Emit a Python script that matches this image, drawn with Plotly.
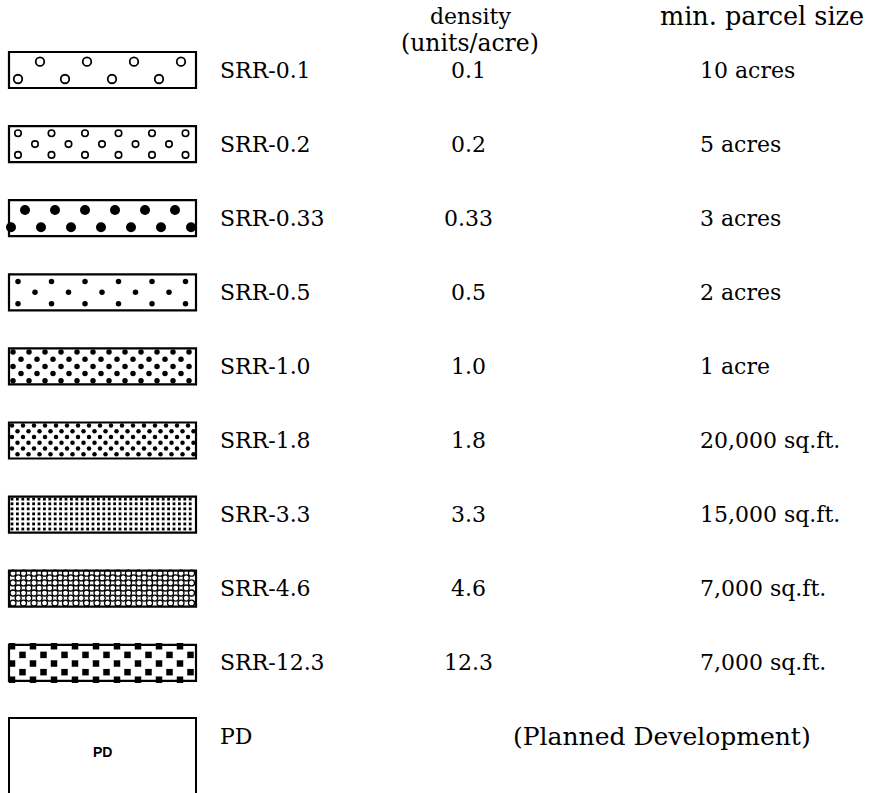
import plotly.graph_objects as go

# ---- data ----
codes = ["SRR-0.1", "SRR-0.2", "SRR-0.33", "SRR-0.5", "SRR-1.0", "SRR-1.8",
         "SRR-3.3", "SRR-4.6", "SRR-12.3", "PD"]
densities = ["0.1", "0.2", "0.33", "0.5", "1.0", "1.8", "3.3", "4.6", "12.3", ""]
parcel_sizes = ["10 acres", "5 acres", "3 acres", "2 acres", "1 acre",
                "20,000 sq.ft.", "15,000 sq.ft.", "7,000 sq.ft.", "7,000 sq.ft.", ""]
pd_note = "(Planned Development)"
header_density = ["density", "(units/acre)"]
header_parcel = "min. parcel size"

# ---- layout constants (page pixels) ----
W, H = 870, 793
ROW0, DY = 70, 74.1
BX0, BX1, BH = 9, 196, 36
FONT = "DejaVu Serif"

patterns = [
    dict(sym="circle-open", size=8.5, lw=1.8, dx=47, rows=[0.27, 0.75], offs=[31, 9]),
    dict(sym="circle-open", size=6.5, lw=1.6, dx=33.5, rows=[0.2, 0.5, 0.8], offs=[9, 26, 9]),
    dict(sym="circle", size=10, lw=0, dx=30, rows=[0.27, 0.75], offs=[16, 2]),
    dict(sym="circle", size=5.5, lw=0, dx=33.5, rows=[0.2, 0.5, 0.82], offs=[9, 26, 9]),
    dict(sym="circle", size=5.5, lw=0, dx=16, rows=[0.1, 0.3, 0.5, 0.7, 0.9], offs=[4, 12, 4, 12, 4]),
    dict(sym="circle", size=4.5, lw=0, dx=11, rows=[0.08, 0.24, 0.4, 0.56, 0.72, 0.88],
         offs=[3, 8.5, 3, 8.5, 3, 8.5]),
    dict(sym="square", size=2.8, lw=0, dx=5.4, rows=[0.07, 0.2, 0.34, 0.48, 0.62, 0.76, 0.9],
         offs=[3, 3, 3, 3, 3, 3, 3]),
    dict(sym="circle-open", size=6, lw=1.3, dx=10.5, rows=[0.07, 0.2, 0.34, 0.48, 0.62, 0.76, 0.9],
         offs=[4, 9.2, 4, 9.2, 4, 9.2, 4]),
    dict(sym="square", size=6.5, lw=0, dx=21, rows=[0.04, 0.28, 0.52, 0.76, 0.97],
         offs=[3, 13.5, 3, 13.5, 3]),
]

fig = go.Figure()
shapes = []
annotations = []


def row_y(i):
    return ROW0 + i * DY


def txt(x, y, s, anchor="center", size=22, family=FONT):
    annotations.append(dict(x=x, y=y, text=s, showarrow=False, xanchor=anchor,
                            yanchor="middle", font=dict(family=family, size=size, color="black")))


for i, code in enumerate(codes):
    yc = row_y(i)
    y0, y1 = yc - BH / 2, yc + BH / 2
    if i < len(patterns):
        p = patterns[i]
        xs, ys = [], []
        for fr, off in zip(p["rows"], p["offs"]):
            x = BX0 + off
            while x < BX1 - 1:
                xs.append(x)
                ys.append(y0 + fr * BH)
                x += p["dx"]
        fig.add_trace(go.Scatter(
            x=xs, y=ys, mode="markers", hoverinfo="skip", showlegend=False,
            marker=dict(symbol=p["sym"], size=p["size"], color="black",
                        line=dict(width=p["lw"], color="black"))))
        shapes.append(dict(type="rect", x0=BX0, x1=BX1, y0=y0, y1=y1,
                           line=dict(color="black", width=2.2), xref="x", yref="y"))
    else:
        top = yc - 19
        shapes.append(dict(type="path",
                           path=f"M {BX0},{H + 20} L {BX0},{top} L {BX1},{top} L {BX1},{H + 20}",
                           line=dict(color="black", width=2), xref="x", yref="y"))
        txt((BX0 + BX1) / 2, yc + 15, "<b>PD</b>", size=14, family="Liberation Sans")
    txt(218, yc, code, anchor="left")
    if densities[i]:
        txt(468, yc, densities[i])
    if parcel_sizes[i]:
        txt(698, yc, parcel_sizes[i], anchor="left")

txt(662, row_y(9), pd_note, size=25)
txt(470, 16, header_density[0], size=22)
txt(470, 43, header_density[1], size=23.5)
txt(762, 16, header_parcel, size=25.5)

fig.update_layout(
    width=W, height=H, margin=dict(l=0, r=0, t=0, b=0),
    paper_bgcolor="white", plot_bgcolor="white",
    xaxis=dict(range=[0, W], visible=False, fixedrange=True),
    yaxis=dict(range=[H, 0], visible=False, fixedrange=True),
    shapes=shapes, annotations=annotations, showlegend=False,
)
fig.write_html("out.html", config={"displayModeBar": False},
               post_script="document.body.style.margin='0';document.body.style.padding='0';")
